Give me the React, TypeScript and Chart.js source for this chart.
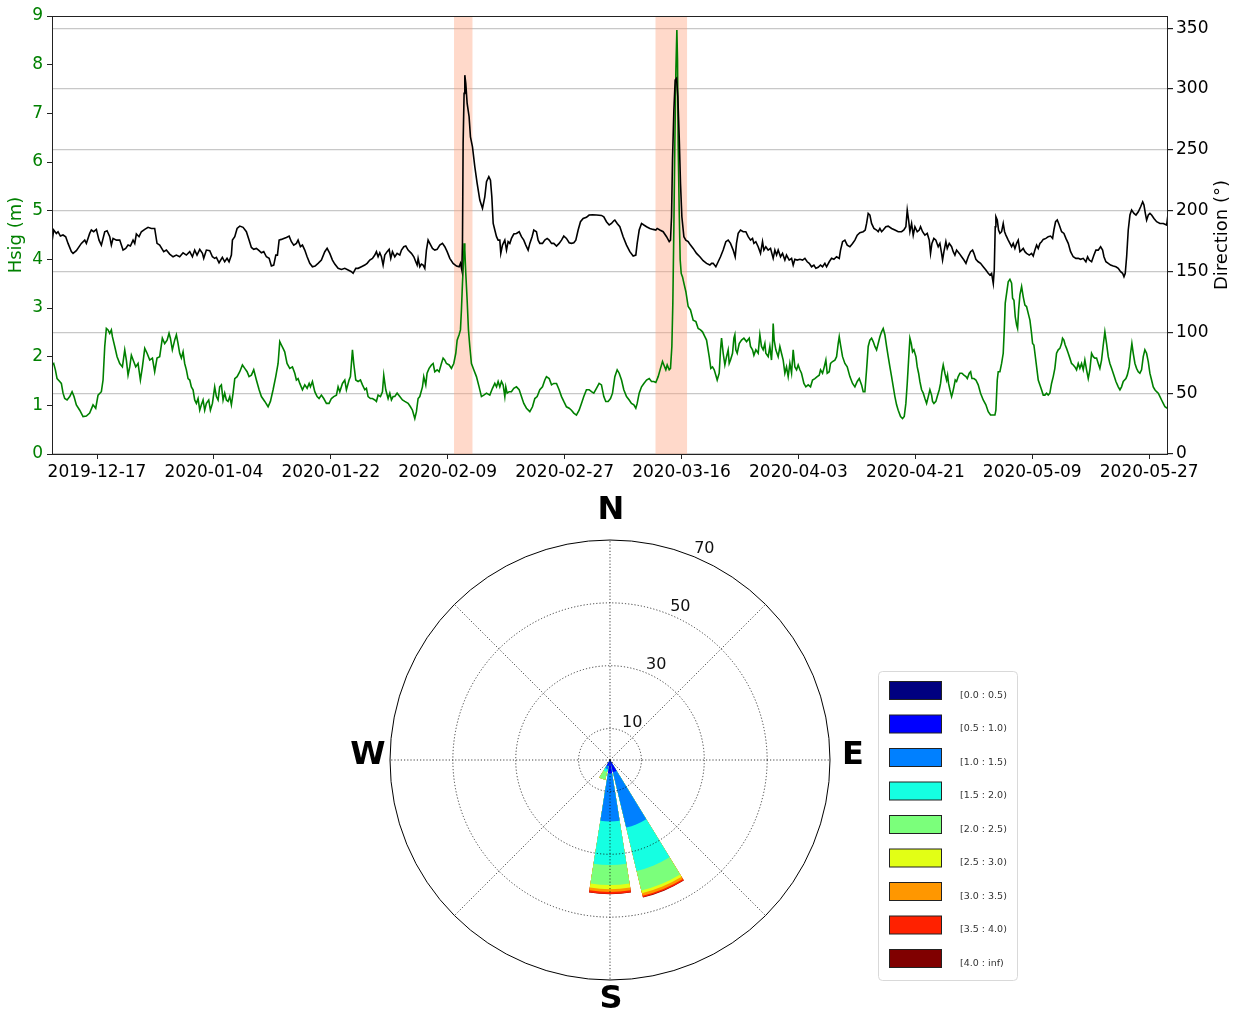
import React, { useEffect, useRef } from 'react';
import { Chart, registerables } from 'chart.js';

Chart.register(...registerables);
Chart.defaults.font.family = '"DejaVu Sans", sans-serif';

// ---------- Top chart data (x = days since 2019-12-17) ----------
const X_MIN = -6.93;
const X_MAX = 164.9;
const dateTickDays = [0, 18, 36, 54, 72, 90, 108, 126, 144, 162];
const dateTickLabels = ['2019-12-17', '2020-01-04', '2020-01-22', '2020-02-09', '2020-02-27', '2020-03-16', '2020-04-03', '2020-04-21', '2020-05-09', '2020-05-27'];
const hsigTicks = [0, 1, 2, 3, 4, 5, 6, 7, 8, 9];
const dirTicks = [0, 50, 100, 150, 200, 250, 300, 350];
const HSIG_MAX = 9;
const DIR_MAX = 360;

const stormStartDays = [54.97, 85.99];
const stormEndDays = [57.81, 90.85];

const hsigDays = [
  -6.93, -6.67, -6.41, -6.15, -5.74, -5.49, -5.23, -4.97, -4.61, -4.2, -3.84, -3.54, -3.18, -2.66, -2.15, -1.64, -1.13, -0.61, -0.2, 0.16,
  0.67, 0.93, 1.19, 1.44, 1.7, 1.96, 2.21, 2.37, 2.73, 3.09, 3.5, 3.91, 4.27, 4.52, 4.78, 5.04, 5.29, 5.65, 5.96, 6.32,
  6.68, 6.99, 7.35, 7.71, 8.12, 8.53, 8.88, 9.24, 9.65, 10.06, 10.42, 10.79, 11.09, 11.3, 11.6, 11.96, 12.22, 12.48, 12.73, 12.99,
  13.25, 13.5, 13.76, 14.02, 14.28, 14.53, 14.79, 15.04, 15.3, 15.56, 15.82, 16.07, 16.33, 16.58, 16.84, 17.2, 17.46, 17.77, 18.12, 18.38,
  18.64, 18.89, 19.15, 19.41, 19.66, 19.92, 20.18,
  20.44, 20.69, 20.95, 21.21, 21.57, 21.98, 22.39, 22.75, 23.11, 23.41, 23.77, 24.13, 24.54, 24.96, 25.31, 25.83, 26.34, 26.7, 27.11, 27.52,
  27.88, 28.14, 28.39, 28.65, 28.9, 29.26, 29.68, 30.09, 30.45, 30.7, 30.96, 31.22, 31.63, 31.99, 32.35, 32.66, 32.86, 33.17, 33.53, 33.89,
  34.19, 34.55, 34.91, 35.32, 35.73, 36.09, 36.45, 36.86, 37.12, 37.38, 37.79, 38.15, 38.4, 38.81, 39.02, 39.33, 39.53, 39.84, 40.2, 40.56,
  40.87, 41.23, 41.48, 41.74, 42.1, 42.41, 42.77, 43.02, 43.28, 43.64, 43.95, 44.15, 44.46, 44.82, 45.08, 45.33, 45.59, 45.85, 46.21, 46.62,
  47.03, 47.39, 47.9, 48.26, 48.57, 48.93, 49.18, 49.44, 49.7,
  50.11, 50.31, 50.62, 50.82, 51.13, 51.49, 51.75, 52.01, 52.37, 52.67, 53.03, 53.29, 53.55, 53.8, 54.22, 54.57, 54.93, 55.24, 55.45, 55.75,
  55.96, 56.11, 56.27, 56.42, 56.52, 56.63, 56.78, 56.99, 57.19, 57.4, 57.65, 58.01, 58.42, 58.83, 59.19, 59.55, 59.97, 60.48, 60.89, 61.25,
  61.51, 61.76, 62.02, 62.28, 62.53, 62.79, 62.94, 63.15, 63.46, 63.81, 64.17, 64.58, 65.0, 65.35, 65.71, 66.12, 66.64, 67.05, 67.41, 67.77,
  68.18, 68.59, 68.95, 69.2, 69.62, 69.98, 70.33, 70.75, 71.15, 71.52, 71.87, 72.28, 72.7, 73.05, 73.41, 73.82, 74.23, 74.59, 74.95, 75.36,
  75.77, 76.13, 76.49, 76.9, 77.31, 77.67, 78.03, 78.34, 78.7, 79.06, 79.37,
  79.73, 80.09, 80.4, 80.76, 81.11, 81.53, 81.94, 82.29, 82.66, 82.96, 83.17, 83.48, 83.84, 84.2, 84.61, 85.02, 85.38, 85.73, 86.04, 86.4,
  86.76, 87.07, 87.28, 87.58, 87.79, 88.1, 88.3, 88.51, 88.66, 88.82, 88.97, 89.13, 89.28, 89.38, 89.48, 89.64, 89.79, 89.95, 90.15, 90.36,
  90.66, 91.02, 91.38, 91.79, 92.21, 92.56, 92.92, 93.23, 93.59, 93.85, 94.26, 94.51, 94.77, 95.03, 95.28, 95.49, 95.8, 96.0, 96.16, 96.41,
  96.67, 96.93, 97.18, 97.34, 97.54, 97.85, 98.06, 98.21, 98.36, 98.57, 98.88, 99.24, 99.6, 100.01, 100.42, 100.62, 100.93, 101.14, 101.44, 101.8,
  102.06, 102.31, 102.57, 102.83, 102.98, 103.34, 103.6, 103.85, 104.01, 104.11, 104.26, 104.52, 104.88, 105.14, 105.39, 105.65, 105.91, 106.16, 106.42, 106.68,
  106.94, 107.19, 107.45, 107.71, 107.96, 108.22, 108.47,
  108.84, 109.14, 109.5, 109.86, 110.17, 110.53, 110.89, 111.2, 111.4, 111.71, 111.92, 112.22, 112.43, 112.74, 112.94, 113.25, 113.61, 113.87, 114.12, 114.28,
  114.48, 114.79, 115.15, 115.51, 115.92, 116.33, 116.69, 117.05, 117.36, 117.72, 117.97, 118.23, 118.49, 118.74, 119.0, 119.26, 119.51, 119.77, 120.03, 120.28,
  120.54, 120.8, 121.05, 121.31, 121.57, 121.82, 122.08, 122.34, 122.6, 122.85, 123.11, 123.36, 123.72, 124.03, 124.29, 124.54, 124.75, 124.96, 125.16, 125.37,
  125.57, 125.78, 126.09, 126.29, 126.5, 126.7, 126.96, 127.22, 127.47, 127.73, 127.99, 128.24, 128.5, 128.65, 128.86, 129.16, 129.37, 129.68, 129.88, 130.09,
  130.29, 130.55, 130.81, 130.96, 131.11, 131.32, 131.58, 131.73, 131.94, 132.14, 132.35, 132.6, 132.86, 133.17, 133.48, 133.79, 134.0, 134.3, 134.51, 134.71,
  135.02, 135.32, 135.68, 136.04, 136.45, 136.86, 137.22, 137.58, 137.99,
  138.25, 138.4, 138.61, 138.76, 139.02, 139.28, 139.53, 139.69, 139.84, 140.05, 140.3, 140.56, 140.82, 140.97, 141.18, 141.38, 141.59, 141.74, 141.9, 142.1,
  142.36, 142.61, 142.87, 143.12, 143.38, 143.64, 143.89, 144.05, 144.25, 144.41, 144.67, 144.92, 145.18, 145.43, 145.69, 145.95, 146.2, 146.46, 146.71, 146.97,
  147.23, 147.48, 147.74, 148.0, 148.25, 148.51, 148.66, 148.87, 149.07, 149.28, 149.54, 149.79, 150.05, 150.31, 150.56, 150.82, 151.08, 151.33, 151.59, 151.85,
  152.1, 152.36, 152.62, 152.87, 153.13, 153.39, 153.64, 153.9, 154.16, 154.41, 154.67, 154.93, 155.18, 155.44, 155.7, 155.95, 156.21, 156.57, 156.88, 157.24,
  157.5, 157.75, 158.01, 158.42, 158.63, 158.93, 159.14, 159.34, 159.55, 159.81, 160.06, 160.32, 160.57, 160.83, 161.09, 161.34, 161.6, 161.86, 162.11, 162.37,
  162.63, 162.88, 163.14, 163.4, 163.66, 163.91, 164.17, 164.43, 164.79,
];
const hsigValues = [
  1.83, 1.86, 1.73, 1.55, 1.49, 1.45, 1.25, 1.14, 1.11, 1.18, 1.28, 1.18, 1.01, 0.9, 0.77, 0.78, 0.84, 1.01, 0.94, 1.21,
  1.28, 1.52, 2.21, 2.58, 2.55, 2.48, 2.55, 2.41, 2.21, 2.0, 1.86, 1.79, 2.14, 1.93, 1.62, 1.79, 2.03, 1.9, 1.79, 1.86,
  1.52, 1.79, 2.17, 2.07, 1.93, 1.97, 1.69, 1.97, 2.0, 2.38, 2.27, 2.34, 2.48, 2.38, 2.14, 2.34, 2.45, 2.27, 2.07, 1.97,
  2.1, 1.86, 1.73, 1.55, 1.52, 1.38, 1.32, 1.11, 1.04, 1.14, 0.9, 1.01, 1.11, 0.9, 1.04, 1.11, 0.9, 1.04, 1.38, 1.18,
  1.11, 1.38, 1.42, 1.11, 1.25, 1.11, 1.08,
  1.18, 1.01, 1.25, 1.55, 1.59, 1.69, 1.83, 1.76, 1.69, 1.59, 1.62, 1.73, 1.52, 1.32, 1.18, 1.08, 0.97, 1.08, 1.32, 1.59,
  1.86, 2.31, 2.24, 2.17, 2.1, 1.86, 1.76, 1.79, 1.66, 1.52, 1.55, 1.45, 1.32, 1.42, 1.35, 1.45, 1.38, 1.49, 1.28, 1.18,
  1.14, 1.21, 1.14, 1.04, 1.04, 1.14, 1.18, 1.21, 1.38, 1.28, 1.45, 1.52, 1.32, 1.52, 1.59, 2.14, 1.86, 1.52, 1.49, 1.52,
  1.42, 1.32, 1.35, 1.18, 1.14, 1.14, 1.11, 1.08, 1.21, 1.18, 1.28, 1.62, 1.32, 1.14, 1.25, 1.11, 1.18, 1.18, 1.25, 1.18,
  1.11, 1.08, 1.04, 0.97, 0.9, 0.73, 0.87, 1.14, 1.18,
  1.38, 1.59, 1.42, 1.66, 1.76, 1.83, 1.86, 1.69, 1.73, 1.69, 1.86, 1.97, 1.93, 1.86, 1.83, 1.76, 1.86, 2.07, 2.34, 2.45,
  2.55, 2.96, 3.51, 3.92, 4.33, 4.19, 3.71, 3.16, 2.55, 2.21, 1.86, 1.73, 1.59, 1.38, 1.18, 1.21, 1.25, 1.21, 1.35, 1.45,
  1.38, 1.49, 1.38, 1.49, 1.42, 1.18, 1.38, 1.25, 1.28, 1.28, 1.35, 1.38, 1.32, 1.18, 1.04, 0.94, 0.87, 0.97, 1.14, 1.18,
  1.32, 1.38, 1.52, 1.59, 1.55, 1.42, 1.45, 1.45, 1.32, 1.18, 1.08, 0.97, 0.94, 0.9, 0.84, 0.8, 0.9, 1.04, 1.18, 1.32,
  1.32, 1.28, 1.25, 1.35, 1.45, 1.42, 1.18, 1.08, 1.08, 1.14, 1.25,
  1.59, 1.73, 1.66, 1.52, 1.32, 1.18, 1.11, 1.04, 1.01, 0.94, 1.04, 1.25, 1.38, 1.45, 1.52, 1.55, 1.49, 1.49, 1.47, 1.59,
  1.76, 1.9, 1.83, 1.73, 1.83, 1.73, 1.76, 2.21, 3.1, 4.67, 6.38, 7.89, 8.71, 8.1, 6.38, 5.01, 3.99, 3.71, 3.64, 3.51,
  3.34, 3.03, 2.96, 2.75, 2.72, 2.58, 2.55, 2.51, 2.41, 2.34, 2.0, 1.76, 1.79, 1.73, 1.62, 1.52, 1.66, 2.14, 2.38, 2.07,
  1.83, 2.0, 2.14, 1.86, 1.93, 2.07, 2.38, 2.45, 2.14, 2.07, 2.27, 2.34, 2.38, 2.31, 2.38, 2.21, 2.14, 2.03, 2.14, 2.07,
  2.45, 2.21, 2.14, 2.27, 2.07, 2.0, 2.21, 1.93, 2.27, 2.68, 2.34, 2.14, 2.0, 2.21, 2.07, 1.93, 1.66, 1.79, 1.59, 1.86,
  1.66, 2.14, 1.79, 1.73, 1.83, 1.73, 1.66,
  1.45, 1.38, 1.42, 1.38, 1.52, 1.55, 1.59, 1.62, 1.73, 1.66, 1.76, 1.93, 1.66, 1.69, 1.86, 1.9, 1.93, 2.0, 2.27, 2.41,
  2.24, 2.0, 1.86, 1.79, 1.59, 1.45, 1.38, 1.49, 1.55, 1.42, 1.28, 1.28, 1.73, 2.21, 2.34, 2.38, 2.31, 2.21, 2.14, 2.27,
  2.41, 2.51, 2.58, 2.45, 2.21, 2.0, 1.79, 1.59, 1.38, 1.18, 1.01, 0.9, 0.77, 0.73, 0.77, 1.04, 1.45, 1.93, 2.38, 2.27,
  2.1, 2.14, 2.0, 1.79, 1.66, 1.49, 1.32, 1.25, 1.14, 1.04, 1.18, 1.32, 1.21, 1.08, 1.04, 1.08, 1.18, 1.32, 1.45, 1.69,
  1.83, 1.66, 1.52, 1.62, 1.45, 1.32, 1.18, 1.25, 1.38, 1.52, 1.49, 1.59, 1.66, 1.66, 1.62, 1.59, 1.55, 1.66, 1.69, 1.55,
  1.55, 1.52, 1.42, 1.25, 1.11, 1.01, 0.87, 0.8, 0.8,
  0.8, 0.9, 1.52, 1.69, 1.69, 1.86, 2.07, 2.55, 3.1, 3.3, 3.54, 3.59, 3.51, 3.2, 3.16, 2.82, 2.65, 2.58, 2.96, 3.27,
  3.44, 3.23, 3.06, 3.03, 2.89, 2.75, 2.48, 2.27, 2.24, 2.07, 1.79, 1.52, 1.42, 1.32, 1.21, 1.21, 1.25, 1.21, 1.25, 1.45,
  1.59, 1.76, 2.07, 2.14, 2.17, 2.27, 2.38, 2.34, 2.24, 2.17, 2.07, 1.97, 1.86, 1.83, 1.79, 1.73, 1.86, 1.76, 1.86, 1.73,
  1.93, 1.73, 1.55, 1.73, 2.07, 2.0, 1.97, 1.97, 1.86, 1.76, 1.93, 2.24, 2.51, 2.27, 2.0, 1.86, 1.76, 1.62, 1.49, 1.38,
  1.32, 1.38, 1.49, 1.55, 1.62, 1.79, 2.07, 2.27, 2.07, 1.86, 1.76, 1.69, 1.66, 1.73, 2.0, 2.14, 2.07, 1.9, 1.66, 1.52,
  1.38, 1.32, 1.28, 1.25, 1.18, 1.11, 1.04, 0.97, 0.94,
];

const dirDays = [
  -6.93, -6.67, -6.26, -6.0, -5.64, -5.23, -4.82, -4.46, -3.95, -3.69, -3.18, -2.41, -1.89, -1.64, -1.13, -0.87, -0.51, -0.1, 0.31, 0.67,
  1.19, 1.55, 1.96, 2.21, 2.47, 2.98, 3.5, 4.01, 4.42, 4.78, 5.14, 5.55, 5.81, 6.06, 6.47, 6.83, 7.35, 7.86, 8.37, 8.88,
  9.24, 9.65, 10.27, 10.68, 11.19, 11.71, 12.22, 12.73, 13.25, 13.76, 14.28, 14.69, 15.04, 15.4, 15.82, 16.23, 16.43, 16.84, 17.36, 17.77,
  18.12, 18.38, 18.79, 19.3, 19.66, 20.02, 20.33, 20.69,
  20.85, 21.21, 21.57, 21.98, 22.49, 23.0, 23.41, 23.77, 24.13, 24.54, 24.96, 25.31, 25.67, 26.08, 26.5, 26.85, 27.21, 27.53, 27.78, 28.04,
  28.39, 28.75, 29.16, 29.58, 29.93, 30.29, 30.7, 30.96, 31.32, 31.63, 31.99, 32.35, 32.76, 33.17, 33.58, 34.04, 34.55, 35.07, 35.43, 35.84,
  36.25, 36.61, 37.12, 37.64, 38.15, 38.66, 39.17, 39.43, 39.84, 40.2, 40.71, 41.23, 41.59, 42.0, 42.41, 42.77, 43.02, 43.28, 43.54, 43.79,
  44.05, 44.31, 44.67, 44.98, 45.23, 45.49, 45.85, 46.21, 46.62, 46.88, 47.24, 47.54, 47.9, 48.41, 48.78, 49.08, 49.29, 49.44, 49.7, 49.95,
  50.21, 50.47, 50.72, 50.98, 51.24, 51.65, 52.01, 52.37, 52.78, 53.19, 53.55, 53.91, 54.32, 54.83, 55.35, 55.75, 55.96, 56.17, 56.27, 56.37,
  56.52, 56.63, 56.78, 56.99, 57.29, 57.5, 57.81, 58.17, 58.53, 58.94, 59.35, 59.71, 59.97, 60.33, 60.58, 60.79, 61.0, 61.25, 61.51, 61.76,
  62.02, 62.17, 62.43, 62.79, 63.05, 63.3, 63.56, 63.81, 64.17, 64.58, 65.0, 65.35, 65.71, 66.02, 66.38, 66.64, 66.99, 67.25, 67.66, 67.92,
  68.18, 68.59, 68.95, 69.31, 69.62, 69.98, 70.33, 70.75, 71.15, 71.52, 71.87, 72.28, 72.7, 73.05, 73.41, 73.72, 74.08, 74.44, 74.85, 75.36,
  75.77, 76.29, 76.9, 77.67, 78.03, 78.44, 78.86, 79.21, 79.57,
  79.73, 80.09, 80.5, 81.01, 81.53, 82.04, 82.55, 82.96, 83.17, 83.48, 83.84, 84.2, 84.61, 85.12, 85.63, 86.04, 86.25, 86.66, 87.17, 87.69,
  88.1, 88.3, 88.46, 88.61, 88.82, 89.02, 89.23, 89.43, 89.64, 89.84, 90.05, 90.36, 90.66, 91.02, 91.38, 91.79, 92.31, 92.82, 93.33, 93.85,
  94.36, 94.62, 94.87, 95.28, 95.64, 96.0, 96.41, 96.82, 97.18, 97.54, 97.95, 98.26, 98.46, 98.72, 99.08, 99.49, 99.9, 100.26, 100.62, 100.93,
  101.14, 101.44, 101.8, 102.16, 102.47, 102.68, 102.98, 103.34, 103.7, 104.11, 104.37, 104.63, 104.88, 105.24, 105.55, 105.91, 106.16, 106.58, 106.94, 107.19,
  107.45, 107.81, 108.22, 108.63,
  108.99, 109.35, 109.66, 110.02, 110.38, 110.68, 111.04, 111.4, 111.71, 112.07, 112.33, 112.74, 113.1, 113.46, 113.87, 114.28, 114.48, 114.79, 115.15, 115.51,
  115.92, 116.33, 116.69, 117.05, 117.46, 117.97, 118.28, 118.49, 118.74, 119.0, 119.26, 119.62, 120.03, 120.28, 120.54, 120.8, 121.05, 121.46, 121.82, 122.34,
  122.85, 123.36, 123.88, 124.23, 124.54, 124.75, 124.96, 125.16, 125.42, 125.67, 125.93, 126.29, 126.6, 126.8, 127.11, 127.47, 127.83, 128.14, 128.34, 128.55,
  128.85, 129.16, 129.52, 129.78, 130.04, 130.19, 130.4, 130.7, 130.91, 131.22, 131.58, 131.83, 132.09, 132.35, 132.76, 133.12, 133.48, 133.79, 134.14, 134.5,
  134.81, 135.02, 135.32, 135.68, 136.04, 136.45, 136.86, 137.22, 137.48, 137.74,
  138.0, 138.15, 138.3, 138.4, 138.61, 138.81, 139.02, 139.28, 139.53, 139.74, 139.94, 140.3, 140.56, 140.82, 141.07, 141.33, 141.59, 141.84, 142.1, 142.36,
  142.61, 142.87, 143.12, 143.54, 143.9, 144.15, 144.41, 144.67, 144.92, 145.18, 145.43, 145.69, 146.1, 146.46, 146.82, 147.13, 147.33, 147.59, 147.85, 148.16,
  148.52, 148.88, 149.18, 149.54, 149.9, 150.31, 150.72, 151.08, 151.44, 151.85, 152.26, 152.52, 152.78, 153.14, 153.5, 153.8, 154.16, 154.52, 154.83, 155.04,
  155.34, 155.7, 156.06, 156.47, 156.88, 157.24, 157.6, 157.91, 158.12, 158.32, 158.53, 158.78, 159.04, 159.3, 159.66, 159.97, 160.33, 160.69, 161.0, 161.2,
  161.41, 161.61, 161.87, 162.12, 162.38, 162.74, 163.15, 163.66, 164.18, 164.69, 164.95,
];
const dirValues = [
  174.5, 184.1, 181.3, 182.7, 179.1, 180.0, 178.6, 173.1, 166.3, 164.9, 167.1, 173.1, 175.8, 173.1, 181.3, 184.1, 182.7, 184.6, 175.8, 171.7,
  182.7, 183.5, 178.6, 171.7, 177.2, 175.8, 175.8, 167.6, 169.0, 171.7, 170.9, 175.8, 173.1, 180.8, 178.6, 182.7, 184.6, 186.3, 185.4, 185.4,
  173.1, 171.7, 166.3, 167.6, 164.3, 162.1, 163.5, 162.1, 165.4, 163.5, 166.3, 162.1, 167.6, 163.5, 168.2, 164.9, 160.8, 167.6, 167.1, 162.1,
  160.8, 161.6, 157.2, 161.6, 158.0, 160.8, 158.0, 163.5,
  175.8, 178.6, 185.4, 187.3, 186.3, 182.7, 175.8, 169.8, 168.2, 169.0, 167.1, 165.4, 166.3, 162.1, 160.8, 154.5, 155.3, 163.5, 163.5, 175.8,
  176.4, 177.2, 178.0, 179.1, 174.5, 171.7, 173.1, 175.8, 170.4, 171.7, 167.6, 162.1, 156.7, 153.9, 154.5, 156.7, 159.4, 166.3, 169.0, 164.9,
  159.4, 156.1, 152.6, 151.7, 152.6, 151.2, 149.8, 148.5, 152.6, 152.6, 153.9, 155.3, 156.7, 159.4, 160.8, 163.5, 166.3, 162.1, 165.4, 162.1,
  155.3, 163.5, 166.3, 168.2, 160.8, 166.3, 162.1, 164.9, 163.5, 167.6, 170.4, 170.9, 167.6, 164.9, 162.1, 158.0, 155.3, 160.8, 153.9, 156.1,
  155.3, 152.6, 167.6, 175.8, 173.1, 169.0, 167.6, 168.2, 171.7, 173.1, 170.4, 166.3, 160.8, 156.7, 154.5, 153.9, 156.7, 151.2, 173.1, 255.3,
  296.4, 311.4, 304.6, 288.1, 277.2, 260.7, 252.5, 236.1, 222.4, 208.7, 201.9, 211.4, 223.8, 227.9, 225.1, 211.4, 189.5, 184.1, 178.6, 175.8,
  175.8, 164.9, 171.7, 175.8, 167.6, 174.5, 173.1, 177.2, 180.8, 181.3, 182.7, 178.6, 175.8, 171.7, 167.6, 173.1, 178.6, 184.1, 182.7, 175.8,
  173.1, 173.1, 175.8, 177.2, 175.8, 173.1, 173.1, 170.9, 173.1, 175.8, 179.1, 177.2, 173.6, 173.1, 173.6, 175.8, 184.1, 190.9, 193.6, 194.5,
  196.4, 196.7, 196.4, 196.1, 195.0, 190.9, 188.2, 189.5, 191.7,
  192.3, 189.5, 186.8, 178.6, 171.7, 166.3, 162.7, 163.5, 173.1, 184.1, 189.5, 188.2, 186.8, 185.4, 184.6, 184.1, 185.4, 184.1, 182.7, 178.6,
  174.5, 175.8, 195.0, 241.6, 282.7, 307.3, 308.7, 293.6, 260.7, 222.4, 195.0, 178.6, 175.8, 174.5, 171.7, 169.0, 164.9, 162.1, 158.9, 156.7,
  155.3, 156.7, 156.7, 153.9, 158.0, 162.1, 167.6, 174.5, 175.8, 173.1, 167.6, 162.1, 173.1, 181.3, 184.1, 182.7, 182.7, 178.6, 175.8, 177.2,
  173.1, 174.5, 170.4, 164.9, 174.5, 167.6, 170.4, 167.6, 169.0, 160.8, 167.6, 163.5, 167.6, 162.1, 164.9, 159.4, 163.5, 159.4, 160.8, 155.3,
  160.0, 159.4, 160.0, 159.4,
  160.8, 158.0, 156.7, 153.9, 155.3, 152.6, 153.4, 155.3, 153.9, 156.7, 153.9, 158.0, 160.8, 160.0, 162.1, 160.8, 167.6, 174.5, 175.8, 171.7,
  170.4, 173.1, 175.8, 179.9, 181.9, 182.7, 184.1, 189.5, 197.8, 196.4, 189.5, 185.4, 184.1, 182.7, 185.4, 182.7, 184.1, 186.8, 187.3, 185.4,
  184.1, 182.7, 182.7, 184.1, 186.8, 200.5, 192.3, 182.7, 189.5, 179.9, 186.8, 182.7, 184.1, 186.8, 182.7, 179.9, 181.3, 175.8, 164.9, 173.1,
  177.2, 175.8, 170.4, 173.1, 164.9, 159.4, 166.3, 174.5, 169.0, 173.1, 170.4, 166.3, 163.5, 167.6, 164.9, 162.1, 159.4, 156.7, 162.1, 166.3,
  167.6, 164.9, 160.0, 158.0, 156.7, 153.9, 151.2, 148.5, 147.1, 148.5,
  140.2, 151.2, 186.8, 195.0, 192.3, 184.1, 181.3, 182.7, 189.5, 182.7, 179.9, 175.8, 173.1, 170.4, 173.1, 169.0, 173.1, 175.8, 166.3, 167.6,
  169.0, 166.3, 164.9, 163.5, 164.9, 162.7, 167.6, 171.7, 169.0, 173.1, 174.5, 176.4, 177.2, 178.6, 179.1, 177.2, 184.1, 190.9, 192.3, 188.2,
  182.7, 181.3, 177.2, 173.1, 166.3, 162.1, 160.8, 160.8, 160.0, 160.8, 158.0, 162.1, 159.4, 158.0, 163.5, 167.6, 167.6, 170.4, 167.6, 162.1,
  158.0, 156.7, 155.3, 154.5, 153.9, 152.6, 149.8, 148.5, 145.7, 148.5, 162.1, 184.1, 196.4, 200.5, 197.8, 196.4, 199.1, 203.2, 207.3, 204.6,
  197.8, 192.3, 196.4, 197.8, 196.4, 193.6, 190.9, 189.5, 189.5, 188.2, 199.1,
];

// ---------- Wind rose data (frequency %, per speed bin, per direction) ----------
const roseDirections = ['N', 'NNE', 'NE', 'ENE', 'E', 'ESE', 'SE', 'SSE', 'S', 'SSW', 'SW', 'WSW', 'W', 'WNW', 'NW', 'NNW'];
const speedBinLabels = ['[0.0 : 0.5)', '[0.5 : 1.0)', '[1.0 : 1.5)', '[1.5 : 2.0)', '[2.0 : 2.5)', '[2.5 : 3.0)', '[3.0 : 3.5)', '[3.5 : 4.0)', '[4.0 : inf)'];
const speedBinColors = ['#000080', '#0000ff', '#0080ff', '#15ffe2', '#7bff7b', '#e2ff15', '#ff9700', '#ff2100', '#800000'];
const bin00_05 = [0, 0, 0, 0, 0, 0, 0, 1.0, 1.0, 0.4, 0, 0, 0, 0, 0, 0];
const bin05_10 = [0, 0, 0, 0, 0, 0, 0, 3.0, 3.2, 1.6, 0, 0, 0, 0, 0, 0];
const bin10_15 = [0, 0, 0, 0, 0, 0, 0, 18.1, 15.4, 1.0, 0, 0, 0, 0, 0, 0];
const bin15_20 = [0, 0, 0, 0, 0, 0, 0, 14.2, 13.8, 0.9, 0, 0, 0, 0, 0, 0];
const bin20_25 = [0, 0, 0, 0, 0, 0, 0, 6.4, 6.4, 2.6, 0, 0, 0, 0, 0, 0];
const bin25_30 = [0, 0, 0, 0, 0, 0, 0, 0.9, 1.3, 0, 0, 0, 0, 0, 0, 0];
const bin30_35 = [0, 0, 0, 0, 0, 0, 0, 0.8, 0.9, 0, 0, 0, 0, 0, 0, 0];
const bin35_40 = [0, 0, 0, 0, 0, 0, 0, 0.5, 0.6, 0, 0, 0, 0, 0, 0, 0];
const bin40_inf = [0, 0, 0, 0, 0, 0, 0, 0.1, 0.1, 0, 0, 0, 0, 0, 0, 0];
const speedBins = [bin00_05, bin05_10, bin10_15, bin15_20, bin20_25, bin25_30, bin30_35, bin35_40, bin40_inf];
const roseRings = [10, 30, 50];
const ROSE_MAX = 70;
const roseRingLabels = [10, 30, 50, 70];

// ---------- styles ----------
const SECTOR_WIDTH = 22.5;
const SECTOR_OPENING = 18;
const SPAN_COLOR = 'rgba(255,160,122,0.4)';
const FONT = '"DejaVu Sans", sans-serif';

const topPlugin = {
  id: 'topDecor',
  beforeDatasetsDraw(chart: any) {
    const { ctx, chartArea, scales } = chart;
    ctx.save();
    ctx.fillStyle = SPAN_COLOR;
    stormStartDays.forEach((s, i) => {
      const x0 = scales.x.getPixelForValue(s);
      const x1 = scales.x.getPixelForValue(stormEndDays[i]);
      ctx.fillRect(x0, chartArea.top, x1 - x0, chartArea.bottom - chartArea.top);
    });
    ctx.restore();
  },
  afterDraw(chart: any) {
    const { ctx, chartArea } = chart;
    const midY = (chartArea.top + chartArea.bottom) / 2;
    ctx.save();
    ctx.strokeStyle = '#222';
    ctx.lineWidth = 1;
    ctx.strokeRect(chartArea.left + 0.5, chartArea.top + 0.5, chartArea.right - chartArea.left - 1, chartArea.bottom - chartArea.top);
    ctx.font = '18px ' + FONT;
    ctx.textAlign = 'center';
    ctx.textBaseline = 'middle';
    ctx.fillStyle = '#008000';
    ctx.translate(16, midY);
    ctx.rotate(-Math.PI / 2);
    ctx.fillText('Hsig (m)', 0, 0);
    ctx.restore();
    ctx.save();
    ctx.font = '18px ' + FONT;
    ctx.textAlign = 'center';
    ctx.textBaseline = 'middle';
    ctx.fillStyle = '#000';
    ctx.translate(1222, midY);
    ctx.rotate(-Math.PI / 2);
    ctx.fillText('Direction (°)', 0, 0);
    ctx.restore();
  },
};

const rosePlugin = {
  id: 'roseDecor',
  afterDatasetsDraw(chart: any) {
    const { ctx } = chart;
    const r = chart.scales.r;
    const cx = r.xCenter;
    const cy = r.yCenter;
    const outer = r.getDistanceFromCenterForValue(ROSE_MAX);
    ctx.save();
    ctx.strokeStyle = '#111';
    ctx.lineWidth = 0.8;
    ctx.setLineDash([1.2, 2]);
    roseRings.forEach((v) => {
      ctx.beginPath();
      ctx.arc(cx, cy, r.getDistanceFromCenterForValue(v), 0, Math.PI * 2);
      ctx.stroke();
    });
    for (let b = 0; b < 360; b += 45) {
      const a = (b * Math.PI) / 180;
      ctx.beginPath();
      ctx.moveTo(cx, cy);
      ctx.lineTo(cx + outer * Math.sin(a), cy - outer * Math.cos(a));
      ctx.stroke();
    }
    ctx.setLineDash([]);
    ctx.strokeStyle = '#000';
    ctx.lineWidth = 1;
    ctx.beginPath();
    ctx.arc(cx, cy, outer, 0, Math.PI * 2);
    ctx.stroke();

    // radial labels at 22.5 deg
    ctx.fillStyle = '#111';
    ctx.font = '16px ' + FONT;
    ctx.textAlign = 'left';
    ctx.textBaseline = 'bottom';
    const la = (22.5 * Math.PI) / 180;
    roseRingLabels.forEach((v) => {
      const d = r.getDistanceFromCenterForValue(v);
      ctx.fillText(String(v), cx + d * Math.sin(la), cy - d * Math.cos(la));
    });

    // compass labels
    ctx.font = 'bold 32px ' + FONT;
    ctx.fillStyle = '#000';
    ctx.textAlign = 'center';
    ctx.textBaseline = 'middle';
    ctx.fillText('N', cx + 1, cy - 249);
    ctx.fillText('S', cx + 1, cy + 240);
    ctx.fillText('W', cx - 242, cy - 4);
    ctx.fillText('E', cx + 243, cy - 4);
    ctx.restore();
  },
  afterDraw(chart: any) {
    const { ctx } = chart;
    ctx.save();
    // legend frame
    const fx = 878.5, fy = 176.5, fw = 139, fh = 309, rad = 4;
    ctx.fillStyle = 'rgba(255,255,255,0.8)';
    ctx.strokeStyle = '#d9d9d9';
    ctx.lineWidth = 1;
    ctx.beginPath();
    ctx.moveTo(fx + rad, fy);
    ctx.arcTo(fx + fw, fy, fx + fw, fy + fh, rad);
    ctx.arcTo(fx + fw, fy + fh, fx, fy + fh, rad);
    ctx.arcTo(fx, fy + fh, fx, fy, rad);
    ctx.arcTo(fx, fy, fx + fw, fy, rad);
    ctx.closePath();
    ctx.fill();
    ctx.stroke();
    ctx.font = '9.5px ' + FONT;
    ctx.textAlign = 'left';
    ctx.textBaseline = 'middle';
    speedBinLabels.forEach((label, i) => {
      const y = 186.5 + i * 33.5;
      ctx.fillStyle = speedBinColors[i];
      ctx.fillRect(889.5, y, 52, 18);
      ctx.strokeStyle = '#222';
      ctx.strokeRect(889.5, y, 52, 18);
      ctx.fillStyle = '#333';
      ctx.fillText(label, 960, y + 14);
    });
    ctx.restore();
  },
};

export default function App() {
  const topRef = useRef<HTMLCanvasElement>(null);
  const roseRef = useRef<HTMLCanvasElement>(null);

  useEffect(() => {
    const hsigData = hsigDays.map((d, i) => ({ x: d, y: hsigValues[i] }));
    const dirData = dirDays.map((d, i) => ({ x: d, y: dirValues[i] }));

    const top = new Chart(topRef.current as HTMLCanvasElement, {
      type: 'line',
      data: {
        datasets: [
          { label: 'Direction', data: dirData, yAxisID: 'y1', borderColor: '#000', borderWidth: 1.6, pointRadius: 0, tension: 0 },
          { label: 'Hsig', data: hsigData, yAxisID: 'y', borderColor: '#008000', borderWidth: 1.6, pointRadius: 0, tension: 0 },
        ],
      },
      options: {
        responsive: false,
        animation: false,
        devicePixelRatio: 1,
        layout: { padding: { top: 16, left: 0, right: 0, bottom: 0 } },
        plugins: { legend: { display: false }, tooltip: { enabled: false } },
        scales: {
          x: {
            type: 'linear',
            min: X_MIN,
            max: X_MAX,
            afterBuildTicks: (s: any) => { s.ticks = dateTickDays.map((v) => ({ value: v })); },
            afterFit: (s: any) => { s.height = 41; },
            ticks: {
              autoSkip: false,
              maxRotation: 0,
              color: '#000',
              font: { size: 17 },
              padding: 3,
              callback: (v: any) => dateTickLabels[dateTickDays.indexOf(Number(v))] ?? '',
            },
            grid: { drawOnChartArea: false, drawTicks: true, tickLength: 5, tickColor: '#222' },
            border: { display: false },
          },
          y: {
            position: 'left',
            min: 0,
            max: HSIG_MAX,
            afterBuildTicks: (s: any) => { s.ticks = hsigTicks.map((v) => ({ value: v })); },
            afterFit: (s: any) => { s.width = 52; },
            ticks: { color: '#008000', font: { size: 17 }, padding: 4 },
            grid: { drawOnChartArea: false, drawTicks: true, tickLength: 5, tickColor: '#222' },
            border: { display: false },
          },
          y1: {
            position: 'right',
            min: 0,
            max: DIR_MAX,
            afterBuildTicks: (s: any) => { s.ticks = dirTicks.map((v) => ({ value: v })); },
            afterFit: (s: any) => { s.width = 70; },
            ticks: { color: '#000', font: { size: 17 }, padding: 3 },
            grid: { drawOnChartArea: true, color: '#c8c8c8', lineWidth: 1.2, drawTicks: true, tickLength: 5, tickColor: '#222' },
            border: { display: false },
          },
        },
      } as any,
      plugins: [topPlugin],
    });

    const cumulative = speedBins.map((_, b) =>
      roseDirections.map((_, d) => speedBins.slice(0, b + 1).reduce((acc, arr) => acc + arr[d], 0))
    );
    const roseLabels = roseDirections.flatMap((dName) => [dName, '']);
    const rose = new Chart(roseRef.current as HTMLCanvasElement, {
      type: 'polarArea',
      data: {
        labels: roseLabels,
        datasets: cumulative.map((cum, b) => ({
          label: speedBinLabels[b],
          data: cum.flatMap((v) => [v, 0]),
          backgroundColor: speedBinColors[b],
          borderWidth: 0,
          angle: (ctx: any) => (ctx.dataIndex % 2 === 0 ? SECTOR_OPENING : SECTOR_WIDTH - SECTOR_OPENING),
        })),
      },
      options: {
        responsive: false,
        animation: false,
        devicePixelRatio: 1,
        layout: { padding: { left: 390, right: 408, top: 45, bottom: 31 } },
        plugins: { legend: { display: false }, tooltip: { enabled: false } },
        scales: {
          r: {
            min: 0,
            max: ROSE_MAX,
            startAngle: -SECTOR_OPENING / 2,
            ticks: { display: false },
            grid: { display: false },
            angleLines: { display: false },
            pointLabels: { display: false },
          },
        },
      } as any,
      plugins: [rosePlugin],
    });

    return () => {
      top.destroy();
      rose.destroy();
    };
  }, []);

  return (
    <div style={{ position: 'absolute', left: 0, top: 0, width: 1238, height: 1011, background: '#fff' }}>
      <canvas ref={topRef} width={1238} height={495} style={{ display: 'block' }} />
      <canvas ref={roseRef} width={1238} height={516} style={{ display: 'block' }} />
    </div>
  );
}
